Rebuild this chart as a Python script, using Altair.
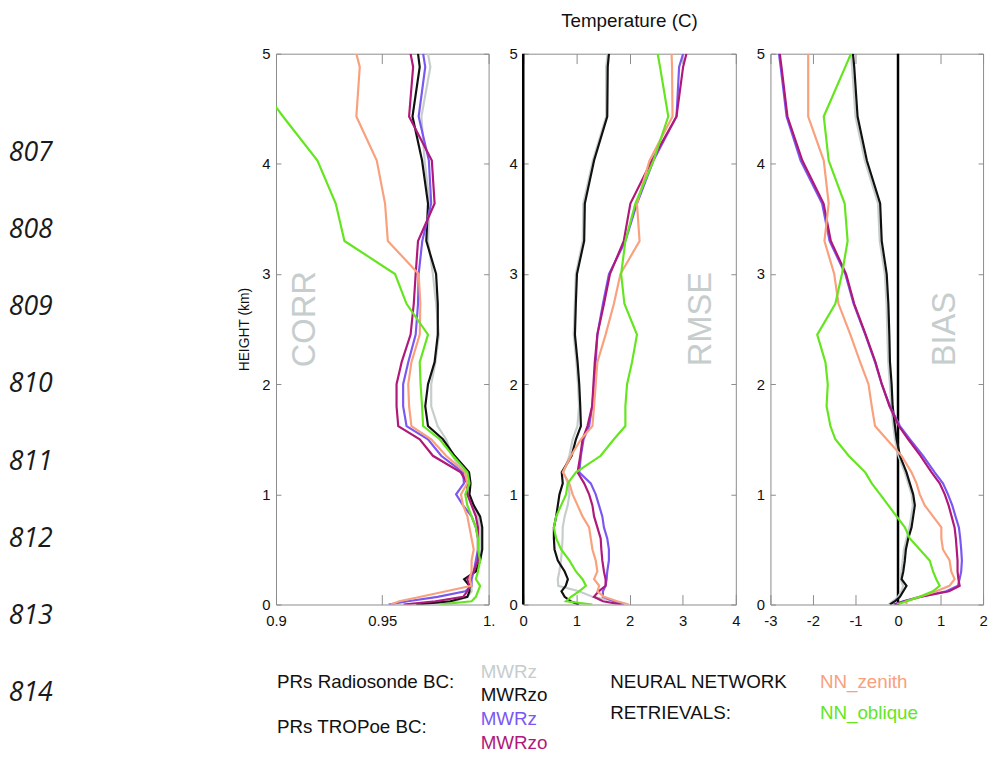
import altair as alt
import pandas as pd

# ---------------- data ----------------
HEIGHTS = [0, 0.03, 0.07, 0.12, 0.17, 0.23, 0.3, 0.4, 0.5, 0.6,
           0.7, 0.8, 0.9, 1.0, 1.1, 1.2, 1.35, 1.5, 1.62, 1.8,
           2.0, 2.2, 2.45, 2.73, 3.0, 3.3, 3.64, 4.03, 4.43, 4.88,
           5.0]

SERIES = ["MWRz (Radiosonde BC)", "MWRzo (Radiosonde BC)", "MWRz (TROPoe BC)",
          "MWRzo (TROPoe BC)", "NN_zenith", "NN_oblique"]
COLORS = ["#c6cdcd", "#111111", "#7b57f2", "#b0187a", "#f9a07d", "#63e61e"]

# CORR
CORR_MWRZ_RS = [0.972, 0.984, 0.990, 0.992, 0.992, 0.991, 0.993, 0.995, 0.996, 0.996,
                0.996, 0.995, 0.993, 0.990, 0.990, 0.988, 0.983, 0.980, 0.976, 0.973,
                0.973, 0.975, 0.9766, 0.9753, 0.9738, 0.9715, 0.9723, 0.9699, 0.9684, 0.9726,
                0.9715]
CORR_MWRZO_RS = [0.966, 0.982, 0.990, 0.991, 0.991, 0.9885, 0.994, 0.996, 0.997, 0.997,
                 0.997, 0.996, 0.993, 0.991, 0.9915, 0.9908, 0.984, 0.9785, 0.9715, 0.9702,
                 0.9715, 0.9746, 0.9761, 0.9761, 0.9753, 0.9707, 0.9715, 0.9687, 0.9642, 0.9676,
                 0.9668]
CORR_MWRZ_TR = [0.953, 0.962, 0.976, 0.989, 0.992, 0.992, 0.993, 0.994, 0.995, 0.995,
                0.994, 0.992, 0.988, 0.9847, 0.9884, 0.988, 0.9777, 0.9715, 0.9614, 0.9598,
                0.9598, 0.9622, 0.9657, 0.9668, 0.9671, 0.9688, 0.9730, 0.9719, 0.9671, 0.9702,
                0.9692]
CORR_MWRZO_TR = [0.960, 0.975, 0.988, 0.990, 0.991, 0.990, 0.993, 0.995, 0.995, 0.995,
                 0.995, 0.994, 0.992, 0.990, 0.990, 0.9869, 0.9738, 0.9676, 0.9575, 0.9567,
                 0.9567, 0.9591, 0.9633, 0.9648, 0.9657, 0.9668, 0.9746, 0.9733, 0.9626, 0.9645,
                 0.9633]
CORR_NN_Z = [0.954, 0.958, 0.968, 0.980, 0.992, 0.991, 0.992, 0.992, 0.993, 0.992,
             0.991, 0.990, 0.988, 0.987, 0.9899, 0.989, 0.980, 0.973, 0.9637, 0.9626,
             0.9622, 0.9637, 0.9676, 0.9679, 0.9671, 0.9526, 0.9513, 0.9474, 0.9378, 0.9394,
             0.9378]
CORR_NN_O = [0.977, 0.992, 0.994, 0.995, 0.996, 0.994, 0.995, 0.996, 0.995, 0.995,
             0.994, 0.992, 0.990, 0.989, 0.991, 0.990, 0.9832, 0.977, 0.9692, 0.9687,
             0.968, 0.9676, 0.9715, 0.9614, 0.9560, 0.9322, 0.9281, 0.9195, 0.9033, 0.886,
             0.882]

# RMSE
RMSE_MWRZ_RS = [1.95, 1.75, 1.3, 1.05, 0.66, 0.65, 0.68, 0.71, 0.73, 0.74,
                0.744, 0.78, 0.837, 0.87, 0.84, 0.76, 0.868, 0.93, 1.02, 1.05,
                1.03, 1.0, 0.95, 0.97, 0.99, 1.12, 1.13, 1.31, 1.56, 1.56,
                1.59]
RMSE_MWRZO_RS = [1.05, 0.89, 0.78, 0.72, 0.80, 0.84, 0.78, 0.651, 0.589, 0.577,
                 0.577, 0.620, 0.651, 0.682, 0.744, 0.725, 0.911, 0.992, 1.085, 1.073,
                 1.054, 1.023, 0.973, 0.99, 1.011, 1.147, 1.159, 1.333, 1.581, 1.59,
                 1.613]
RMSE_MWRZ_TR = [1.9, 1.7, 1.5, 1.5, 1.55, 1.57, 1.581, 1.612, 1.612, 1.581,
                1.519, 1.488, 1.426, 1.364, 1.271, 1.054, 1.085, 1.135, 1.240, 1.30,
                1.333, 1.364, 1.395, 1.50, 1.613, 1.922, 2.14, 2.45, 2.884, 2.933,
                3.008]
RMSE_MWRZO_TR = [1.85, 1.5, 1.33, 1.42, 1.55, 1.55, 1.519, 1.488, 1.470, 1.457,
                 1.395, 1.333, 1.302, 1.240, 1.147, 1.023, 1.073, 1.116, 1.209, 1.296,
                 1.321, 1.346, 1.395, 1.52, 1.632, 1.892, 2.016, 2.419, 2.884, 3.008,
                 3.07]
RMSE_NN_Z = [1.984, 1.767, 1.519, 1.395, 1.43, 1.333, 1.395, 1.364, 1.302, 1.271,
             1.240, 1.116, 1.023, 0.930, 0.868, 0.744, 0.899, 1.085, 1.302, 1.333,
             1.364, 1.395, 1.55, 1.706, 1.829, 2.189, 2.14, 2.375, 2.809, 2.80,
             2.791]
RMSE_NN_O = [1.30, 0.806, 0.90, 1.05, 1.18, 1.116, 0.992, 0.868, 0.713, 0.620,
             0.577, 0.620, 0.713, 0.806, 0.837, 0.992, 1.457, 1.706, 1.922, 1.922,
             1.954, 2.047, 2.140, 1.904, 1.842, 1.922, 2.109, 2.450, 2.729, 2.574,
             2.530]

# BIAS
BIAS_MWRZ_RS = [-0.22, -0.12, 0.0, 0.08, 0.12, 0.06, 0.08, 0.11, 0.14, 0.20,
                0.27, 0.31, 0.35, 0.32, 0.24, 0.16, 0.01, -0.07, -0.11, -0.16,
                -0.19, -0.23, -0.25, -0.27, -0.31, -0.43, -0.47, -0.78, -1.0, -1.08,
                -1.11]
BIAS_MWRZO_RS = [-0.19, -0.07, 0.045, 0.124, 0.20, 0.084, 0.124, 0.161, 0.185, 0.24,
                 0.318, 0.357, 0.396, 0.357, 0.278, 0.20, 0.045, -0.033, -0.072, -0.126,
                 -0.15, -0.189, -0.204, -0.227, -0.266, -0.383, -0.42, -0.733, -0.951, -1.03,
                 -1.06]
BIAS_MWRZ_TR = [-0.11, 0.124, 0.512, 1.136, 1.41, 1.447, 1.486, 1.502, 1.486, 1.463,
                1.432, 1.352, 1.276, 1.175, 1.057, 0.862, 0.59, 0.278, 0.045, -0.189,
                -0.383, -0.54, -0.77, -1.045, -1.24, -1.61, -1.785, -2.29, -2.62, -2.76,
                -2.80]
BIAS_MWRZO_TR = [-0.08, 0.15, 0.55, 1.2, 1.45, 1.42, 1.40, 1.40, 1.38, 1.36,
                 1.33, 1.26, 1.19, 1.10, 0.98, 0.79, 0.53, 0.24, 0.02, -0.2,
                 -0.38, -0.53, -0.76, -1.03, -1.22, -1.58, -1.75, -2.25, -2.60, -2.74,
                 -2.78]
BIAS_NN_Z = [0.20, 0.20, 0.51, 0.90, 1.21, 1.33, 1.252, 1.213, 1.057, 1.019,
             1.019, 0.824, 0.629, 0.512, 0.435, 0.318, 0.084, -0.266, -0.54, -0.617,
             -0.694, -0.89, -1.12, -1.40, -1.50, -1.73, -1.63, -1.746, -2.112, -2.112,
             -2.112]
BIAS_NN_O = [-0.03, 0.2, 0.51, 0.82, 0.98, 0.90, 0.824, 0.745, 0.512, 0.278,
             0.161, -0.033, -0.227, -0.42, -0.617, -0.77, -1.16, -1.474, -1.59, -1.68,
             -1.652, -1.707, -1.90, -1.474, -1.318, -1.185, -1.255, -1.63, -1.746, -1.24,
             -1.107]

ZERO_LINE = [0]

PANEL_TAGS = ["CORR", "RMSE", "BIAS"]
TAG_POS = [(0.9135, 2.59), (3.35, 2.59), (1.11, 2.50)]

LINE_NUMBERS = [807, 808, 809, 810, 811, 812, 813, 814]

LEG_GROUPS_PR = ["PRs Radiosonde BC:", "PRs TROPoe BC:"]
LEG_GROUPS_PR_ROW = [0.45, 2.35]
LEG_PR_LABELS = ["MWRz", "MWRzo", "MWRz", "MWRzo"]
LEG_PR_SERIES = SERIES[:4]
LEG_PR_ROW = [0, 1, 2, 3]
LEG_GROUPS_NN = ["NEURAL NETWORK", "RETRIEVALS:"]
LEG_GROUPS_NN_ROW = [0.45, 1.72]
LEG_NN_LABELS = ["NN_zenith", "NN_oblique"]
LEG_NN_SERIES = SERIES[4:]
LEG_NN_ROW = [0.45, 1.72]

FONT = "Liberation Sans"
FRAME = "#8c8c8c"

color_scale = alt.Scale(domain=SERIES, range=COLORS)


def make_panel(arrays, domain, ticks, label_expr, tag, tag_pos, zero, ytitle):
    rows = []
    for s, vals in zip(SERIES, arrays):
        for h, v in zip(HEIGHTS, vals):
            rows.append({"series": s, "height": h, "value": v})
    df = pd.DataFrame(rows)
    xs = alt.Scale(domain=domain, nice=False, zero=False)
    ys = alt.Scale(domain=[0, 5], nice=False, zero=False)
    ax_bottom = alt.Axis(orient="bottom", values=ticks, labelExpr=label_expr,
                         tickSize=10, offset=-10, domain=False, grid=False,
                         labelPadding=9, labelFlush=False, title=None)
    left_kw = dict(orient="left", values=[0, 1, 2, 3, 4, 5], tickSize=5, offset=-5,
                   domain=False, grid=False, labelPadding=6, labelFlush=False)
    if ytitle:
        ax_left = alt.Axis(title=ytitle, titlePadding=10, titleFontSize=14,
                           titleFontWeight="normal", titleFont=FONT, titleColor="#111",
                           **left_kw)
    else:
        ax_left = alt.Axis(title=None, **left_kw)
    ax_top = alt.Axis(orient="top", values=ticks, tickSize=10, offset=-10, domain=False,
                      grid=False, labels=False, title=None)
    ax_right = alt.Axis(orient="right", values=[0, 1, 2, 3, 4, 5], tickSize=5, offset=-5,
                        domain=False, grid=False, labels=False, title=None)

    layers = []
    layers.append(
        alt.Chart(df).mark_point(opacity=0, clip=True).encode(
            x=alt.X("value:Q", scale=xs, axis=ax_top),
            y=alt.Y("height:Q", scale=ys, axis=ax_right),
        )
    )
    tag_df = pd.DataFrame({"value": [tag_pos[0]], "height": [tag_pos[1]], "tag": [tag]})
    layers.append(
        alt.Chart(tag_df).mark_text(angle=270, fontSize=33, font=FONT, color="#c5cdcd",
                                    align="center", baseline="middle").encode(
            x=alt.X("value:Q", scale=xs, axis=None),
            y=alt.Y("height:Q", scale=ys, axis=None),
            text="tag:N",
        )
    )
    if zero:
        layers.append(
            alt.Chart(pd.DataFrame({"value": ZERO_LINE})).mark_rule(
                color="#000000", strokeWidth=2.5).encode(
                x=alt.X("value:Q", scale=xs, axis=None))
        )
    layers.append(
        alt.Chart(df).mark_line(strokeWidth=2.2, clip=True).encode(
            x=alt.X("value:Q", scale=xs, axis=ax_bottom),
            y=alt.Y("height:Q", scale=ys, axis=ax_left),
            color=alt.Color("series:N", scale=color_scale, legend=None),
            order=alt.Order("height:Q"),
        )
    )
    return alt.layer(*layers).resolve_axis(x="independent", y="independent").properties(
        width=215, height=557, view=alt.ViewBackground(stroke=FRAME, strokeWidth=1))


corr = make_panel([CORR_MWRZ_RS, CORR_MWRZO_RS, CORR_MWRZ_TR, CORR_MWRZO_TR, CORR_NN_Z, CORR_NN_O],
                  [0.9, 1.0], [0.9, 0.95, 1.0],
                  "datum.value == 1 ? '1.' : format(datum.value, '.2~f')",
                  PANEL_TAGS[0], TAG_POS[0], False, "HEIGHT (km)")
rmse = make_panel([RMSE_MWRZ_RS, RMSE_MWRZO_RS, RMSE_MWRZ_TR, RMSE_MWRZO_TR, RMSE_NN_Z, RMSE_NN_O],
                  [0, 4], [0, 1, 2, 3, 4], "'' + datum.value",
                  PANEL_TAGS[1], TAG_POS[1], True, None)
bias = make_panel([BIAS_MWRZ_RS, BIAS_MWRZO_RS, BIAS_MWRZ_TR, BIAS_MWRZO_TR, BIAS_NN_Z, BIAS_NN_O],
                  [-3, 2], [-3, -2, -1, 0, 1, 2], "'' + datum.value",
                  PANEL_TAGS[2], TAG_POS[2], True, None)

panels = alt.hconcat(corr, rmse, bias, spacing=35, bounds="flush").properties(
    title=alt.TitleParams("Temperature (C)", fontSize=19, font=FONT, fontWeight="normal",
                          color="#111", anchor="middle", dx=17, offset=15))

# legend (text only, as in the figure)
leg_pr_groups = pd.DataFrame({"label": LEG_GROUPS_PR, "row": LEG_GROUPS_PR_ROW})
leg_pr = pd.DataFrame({"label": LEG_PR_LABELS, "series": LEG_PR_SERIES, "row": LEG_PR_ROW})
leg_nn_groups = pd.DataFrame({"label": LEG_GROUPS_NN, "row": LEG_GROUPS_NN_ROW})
leg_nn = pd.DataFrame({"label": LEG_NN_LABELS, "series": LEG_NN_SERIES, "row": LEG_NN_ROW})
row_scale = alt.Scale(domain=[-0.5, 3.5], reverse=True, nice=False, zero=False)


def leg_text(df, xpos, colored):
    enc = dict(x=alt.value(xpos), y=alt.Y("row:Q", scale=row_scale, axis=None), text="label:N")
    if colored:
        enc["color"] = alt.Color("series:N", scale=color_scale, legend=None)
    return alt.Chart(df).mark_text(font=FONT, fontSize=19, align="left", baseline="middle",
                                   color="#111").encode(**enc)


legend = alt.layer(
    leg_text(leg_pr_groups, 1, False),
    leg_text(leg_pr, 207, True),
    leg_text(leg_nn_groups, 338, False),
    leg_text(leg_nn, 550, True),
).properties(width=680, height=96)

right = alt.vconcat(panels, legend, spacing=31)

nums_df = pd.DataFrame({"n": LINE_NUMBERS, "label": [str(n) for n in LINE_NUMBERS]})
nums = alt.Chart(nums_df).mark_text(font="Open Sans", fontStyle="italic", fontSize=27,
                                    color="#1a1a1a", align="center", baseline="middle").encode(
    x=alt.value(22),
    y=alt.Y("n:Q", scale=alt.Scale(domain=[814.678, 805.720], nice=False, zero=False), axis=None),
    text="label:N",
).properties(width=60, height=700)

chart = alt.hconcat(nums, right, spacing=171).properties(padding=0).configure_view(
    stroke=None
).configure_axis(
    labelFont=FONT, labelFontSize=15, labelColor="#111", tickColor=FRAME, tickWidth=1
)

chart.save("out.html", embed_options={"renderer": "svg", "actions": False})
